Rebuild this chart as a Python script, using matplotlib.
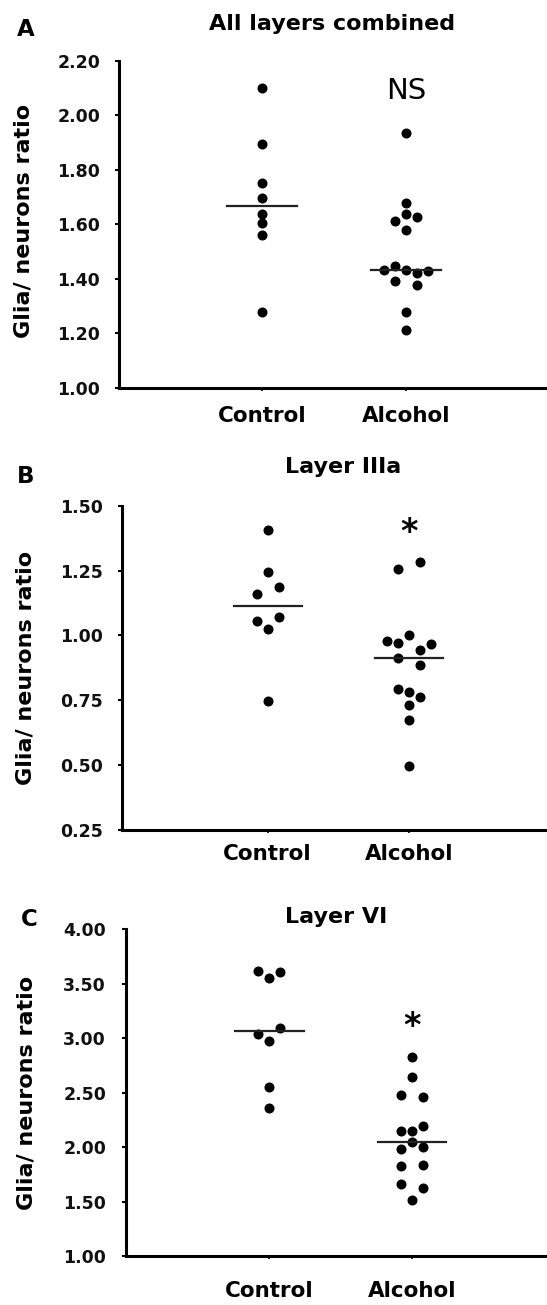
# Glia / neuron ratio scatter (three panels, median line per group)
import numpy as np
import matplotlib
matplotlib.use("Agg")
import matplotlib.pyplot as plt

plt.rcParams['font.family'] = ['DejaVu Sans']

groups = ["Control", "Alcohol"]

# panel A - all layers combined
a_control = [2.100, 1.893, 1.750, 1.697, 1.636, 1.603, 1.559, 1.278]
a_alcohol = [1.936, 1.679, 1.636, 1.613, 1.626, 1.579, 1.432, 1.447, 1.422,
             1.432, 1.427, 1.392, 1.378, 1.278, 1.212]
a_ticks = [1.00, 1.20, 1.40, 1.60, 1.80, 2.00, 2.20]

# panel B - layer IIIa
b_control = [1.407, 1.246, 1.160, 1.186, 1.056, 1.070, 1.025, 0.748]
b_alcohol = [1.256, 1.284, 1.001, 0.970, 0.944, 0.980, 0.966, 0.913, 0.887,
             0.782, 0.794, 0.764, 0.732, 0.673, 0.498]
b_ticks = [0.25, 0.50, 0.75, 1.00, 1.25, 1.50]

# panel C - layer VI
c_control = [3.550, 3.620, 3.605, 2.974, 3.036, 3.096, 2.555, 2.362]
c_alcohol = [2.825, 2.641, 2.481, 2.463, 2.148, 2.148, 2.197, 2.050, 1.980,
             2.004, 1.826, 1.836, 1.658, 1.622, 1.514]
c_ticks = [1.00, 1.50, 2.00, 2.50, 3.00, 3.50, 4.00]

W, H = 547, 1305
fig = plt.figure(figsize=(W / 100, H / 100), dpi=100)


def fx(x):
    return x / W


def fy(y):
    return 1 - y / H


def swarm_offsets(values, ppu, join_px=7.6):
    # group close values into rows, then spread each row symmetrically
    vals = np.asarray(values)
    order = np.argsort(-vals, kind='stable')
    rows = []
    cur = [order[0]]
    for prev, idx in zip(order[:-1], order[1:]):
        if (vals[prev] - vals[idx]) * ppu < join_px:
            cur.append(idx)
        else:
            rows.append(cur)
            cur = [idx]
    rows.append(cur)
    offs = np.zeros(len(vals))
    for row in rows:
        row = sorted(row)
        if len(row) % 2:
            slots = [0, -1, 1, -2, 2, -3, 3]
        else:
            slots = [-1, 1, -2, 2, -3, 3]
        for i, s in zip(row, slots):
            offs[i] = s
    return offs


def panel(box, xlim, ticks, series, title, title_xy, letter, letter_xy,
          ylab_xy, xpad, mark=None, mark_y=None, mark_size=22, mark_bold=True):
    left, top, right, bottom = box
    ax = fig.add_axes([fx(left), fy(bottom), fx(right) - fx(left),
                       (bottom - top) / H])
    ax.set_xlim(*xlim)
    ax.set_ylim(ticks[0], ticks[-1])

    ppu = (bottom - top) / (ticks[-1] - ticks[0])
    slot = 11.0 / ((right - left) / (xlim[1] - xlim[0]))

    for i, vals in enumerate(series):
        xpos = i + 1
        offs = swarm_offsets(vals, ppu)
        ax.plot(xpos + offs * slot, vals, 'o', color='black', ms=6.2,
                mec='black', clip_on=False, zorder=3)
        med = np.median(vals)
        ax.plot([xpos - 0.24, xpos + 0.24], [med, med], color='#222222',
                lw=1.6, zorder=4)

    for side in ['top', 'right']:
        ax.spines[side].set_visible(False)
    for side in ['left', 'bottom']:
        ax.spines[side].set_linewidth(2.2)

    ax.set_yticks(ticks)
    ax.set_yticklabels(["%.2f" % t for t in ticks], fontsize=12.5,
                       fontweight='bold', color='#111111')
    ax.tick_params(axis='y', direction='out', length=3, width=1.5, pad=11)
    ax.set_xticks([1, 2])
    ax.set_xticklabels(groups, fontsize=15.5, fontweight='bold')
    ax.tick_params(axis='x', direction='out', length=2.5, width=1.2, pad=xpad)

    fig.text(fx(title_xy[0]), fy(title_xy[1]), title, fontsize=16,
             fontweight='bold', ha='center', va='center')
    fig.text(fx(letter_xy[0]), fy(letter_xy[1]), letter, fontsize=16.5,
             fontweight='bold', ha='center', va='center')
    fig.text(fx(ylab_xy[0]), fy(ylab_xy[1]), "Glia/ neurons ratio",
             fontsize=16, fontweight='bold', rotation=90,
             ha='center', va='center')
    if mark is not None:
        ax.text(2, mark_y, mark, fontsize=mark_size, ha='center', va='center',
                fontweight='bold' if mark_bold else 'normal')
    return ax


panel((119.5, 60.7, 547, 387.7), (0.0104, 2.979), a_ticks,
      [a_control, a_alcohol], "All layers combined", (332, 24),
      "A", (26, 29), (23.5, 221), xpad=10.8,
      mark="NS", mark_y=2.089, mark_size=21, mark_bold=False)

panel((122, 505.7, 547, 830), (-0.0275, 2.972), b_ticks,
      [b_control, b_alcohol], "Layer IIIa", (343.5, 466.7),
      "B", (26, 476.7), (26, 668), xpad=7.7,
      mark="*", mark_y=1.395, mark_size=24)

panel((125.5, 929.3, 547, 1256), (-0.0077, 2.946), c_ticks,
      [c_control, c_alcohol], "Layer VI", (336, 916.7),
      "C", (29, 919), (27, 1093), xpad=15.6,
      mark="*", mark_y=3.11, mark_size=24)

fig.savefig("out.png", dpi=100)
